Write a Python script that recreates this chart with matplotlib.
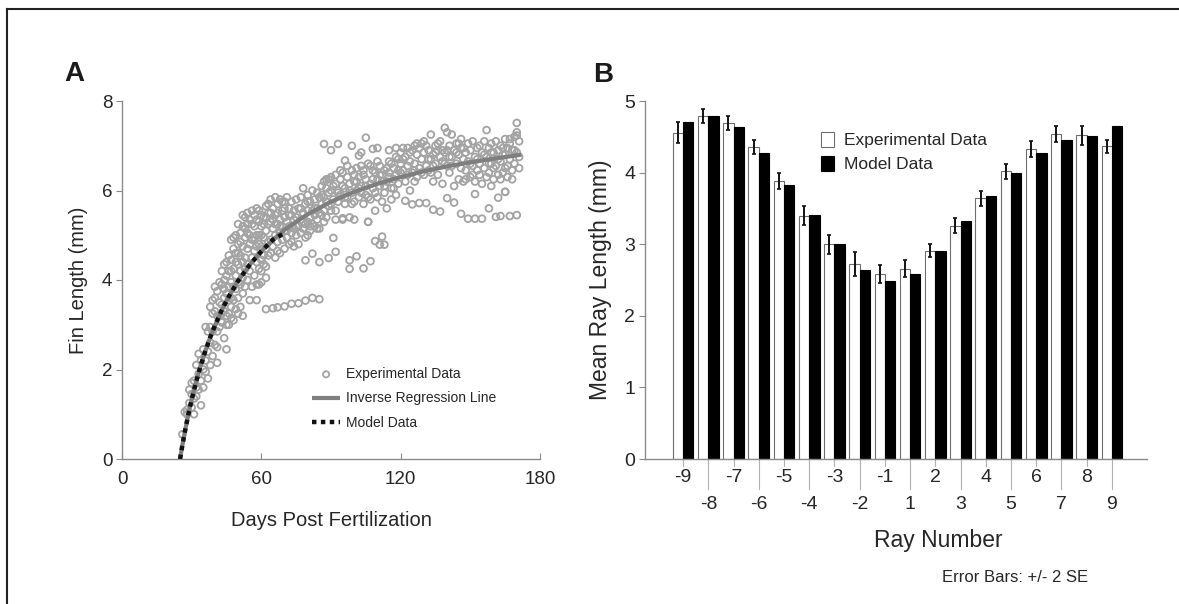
import matplotlib
matplotlib.use("Agg")
import matplotlib.pyplot as plt
from matplotlib.lines import Line2D
import numpy as np

plt.rcParams['font.family'] = ['Liberation Sans', 'DejaVu Sans']

# ---------------- Panel A data ----------------
exp_days = [
    26, 27, 28, 28, 29, 29, 30, 30, 30, 31, 31, 31, 32, 32, 32, 33, 33, 33, 34, 34, 34, 35, 35, 35,
    36, 36, 36, 37, 37, 37, 38, 38, 38, 39, 39, 39, 40, 40, 40, 41, 41, 41, 42, 42,
    42, 43, 43, 43, 44, 44, 44, 44, 45, 45, 45, 45, 45, 46, 46, 46, 46, 47, 47, 47, 47, 47, 48, 48, 48, 48,
    49, 49, 49, 49, 50, 50, 50, 50, 50, 51, 51, 51, 51, 52, 52, 52, 52, 53, 53, 53, 53, 54, 54, 54, 54,
    55, 55, 55, 55, 55,
    56, 56, 56, 57, 57, 57, 57, 58, 58, 58, 58, 59, 59, 59, 59, 60, 60, 60, 60, 60, 61, 61, 61, 62, 62, 62, 62,
    63, 63, 63, 64, 64, 64, 64, 65, 65, 65, 66, 66, 66, 66, 67, 67, 67, 68, 68, 68, 68, 69, 69, 69, 70, 70, 70, 70,
    71, 71, 71, 72, 72, 72, 73, 73, 73, 74, 74, 74, 75, 75, 75,
    56, 58, 59, 62, 65, 67, 70, 73, 76, 79, 82, 85,
    76, 76, 76, 77, 77, 77, 78, 78, 78, 79, 79, 79, 80, 80, 80, 80, 81, 81, 81, 82, 82, 82, 83, 83, 83,
    84, 84, 84, 85, 85, 85, 86, 86, 86, 87, 87, 87, 88, 88, 88, 89, 89, 89, 90, 90, 90, 79, 82, 85, 89, 91, 92,
    91, 91, 92, 92, 93, 93, 94, 94, 95, 95, 96, 96, 97, 97, 98, 98, 99, 99, 100, 100, 100, 101, 101, 102, 102,
    103, 103, 104, 104, 105, 105, 106, 106, 107, 107, 108, 108, 109, 109, 110, 110, 111, 111, 112, 112, 113, 113,
    114, 114, 115, 115, 116, 116, 117, 117, 118, 118, 119, 119, 120, 120,
    87, 90, 93, 96, 99, 102, 105, 108,
    98, 98, 101, 104, 107, 109, 112, 111, 113, 106, 95, 92,
    121, 121, 122, 122, 123, 123, 124, 124, 125, 125, 126, 126, 127, 127, 128, 128, 129, 129, 130, 130, 131, 131,
    132, 132, 133, 133, 134, 134, 135, 135, 136, 136, 137, 137, 138, 138, 139, 139, 140, 140, 141, 141, 142, 142,
    143, 143, 144, 144, 145, 145, 146, 146, 147, 147, 148, 148, 149, 149, 150, 150, 151, 151, 152, 152, 153, 153,
    154, 154, 155, 155, 156, 156, 157, 157, 158, 158, 159, 159, 160, 160, 161, 161, 162, 162, 163, 163, 164, 164,
    165, 165, 166, 166, 167, 167, 168, 168, 169, 169, 170, 170, 171, 171,
    122, 125, 128, 131, 134, 137, 140, 143, 146, 149, 152, 155, 158, 161, 163, 165, 167, 170, 152, 162, 165, 159,
    170, 170, 167,
]
exp_length = [
    0.55, 1.05, 1.10, 1.00, 1.55, 1.25, 1.70, 1.15, 1.45, 1.00, 1.35, 1.75, 1.60, 1.40, 2.10, 2.35, 1.90, 1.55,
    1.20, 2.20, 1.75, 2.45, 2.00, 1.60, 2.95, 2.20, 1.95, 2.85, 2.40, 1.80, 3.40, 2.60, 2.10, 3.25, 2.85, 2.30,
    3.85, 3.30, 2.55, 3.20, 2.50, 2.15, 3.95, 3.50,
    2.95, 3.90, 3.45, 3.05, 3.80, 3.30, 3.60, 4.00, 4.40, 3.20, 3.70, 3.00, 2.45, 4.55, 3.85, 3.25, 4.20, 4.90,
    4.45, 3.15, 3.60, 3.95, 4.70, 4.25, 3.55, 3.10, 5.00, 4.60, 3.80, 4.10, 4.80, 4.35, 3.95, 3.25, 4.60, 5.05,
    4.55, 3.90, 4.20, 5.20, 4.75, 4.40, 3.70, 5.40, 4.95, 4.50, 4.25, 5.50, 5.05, 4.70, 4.35, 5.35, 5.00, 4.80,
    4.20, 3.55,
    5.55, 4.90, 4.50, 5.20, 4.65, 5.45, 4.10, 5.60, 5.00, 4.40, 3.90, 5.30, 4.80, 4.25, 5.55, 5.20, 4.75, 4.45,
    5.45, 4.20, 5.40, 4.95, 4.55, 5.65, 5.10, 4.70, 4.30, 5.50, 4.85, 5.25, 5.80, 5.30, 4.90, 4.60, 5.60, 5.15,
    4.75, 5.85, 5.45, 5.00, 4.50, 5.70, 5.25, 4.85, 5.80, 5.35, 5.05, 4.60, 5.55, 5.20, 4.90, 5.75, 5.40, 5.10,
    4.70, 5.85, 5.30, 4.95, 5.60, 5.20, 4.80, 5.75, 5.45, 5.05, 5.55, 5.15, 4.75, 5.80, 5.40, 5.00,
    3.85, 3.55, 3.90, 3.35, 3.37, 3.39, 3.41, 3.47, 3.48, 3.54, 3.60, 3.57,
    5.60, 5.20, 4.80, 5.85, 5.35, 5.05, 6.05, 5.50, 5.15, 5.70, 5.25, 4.95, 5.90, 5.55, 5.30, 5.00, 5.75, 5.40,
    5.10, 6.00, 5.55, 5.25, 5.80, 5.45, 5.20, 5.95, 5.60, 5.35, 5.85, 5.50, 5.15, 6.10, 5.70, 5.45, 6.20, 5.85,
    5.55, 6.05, 5.75, 5.40, 6.25, 5.95, 5.65, 6.30, 6.00, 5.70, 4.44, 4.59, 4.40, 4.49, 4.94, 4.63,
    6.10, 5.80, 6.35, 5.55, 6.00, 5.75, 6.25, 5.90, 5.35, 6.40, 6.05, 5.70, 6.30, 5.85, 5.40, 6.15, 6.45, 5.95,
    6.20, 5.75, 5.35, 6.50, 6.00, 6.30, 5.85, 6.55, 6.10, 5.70, 6.35, 6.25, 5.90, 6.60, 5.30, 6.15, 5.80, 6.45,
    6.05, 5.55, 6.40, 6.25, 5.85, 6.55, 6.10, 5.75, 6.35, 6.45, 5.95, 6.20, 5.60, 6.65, 6.30, 6.05, 5.80, 6.50,
    6.25, 6.35, 5.90, 6.70, 6.15, 6.85, 6.40,
    7.04, 6.90, 7.04, 6.67, 7.00, 6.78, 7.18, 6.93,
    4.44, 4.25, 4.53, 4.26, 4.42, 4.87, 4.97, 4.79, 4.79, 5.30, 5.38, 5.35,
    6.95, 6.45, 6.75, 6.20, 6.95, 6.55, 6.65, 6.00, 6.90, 6.40, 7.00, 6.60, 6.80, 6.30, 6.95, 6.50, 7.05, 6.70,
    6.85, 6.35, 7.00, 6.55, 6.90, 6.45, 7.25, 6.70, 6.80, 6.20, 7.00, 6.60, 6.90, 6.35, 7.10, 6.75, 6.65, 6.15,
    7.40, 6.85, 7.30, 6.55, 7.00, 6.40, 7.25, 6.75, 6.90, 6.10, 7.05, 6.60, 6.80, 6.25, 7.15, 6.50, 6.95, 6.20,
    6.85, 6.45, 7.05, 6.65, 6.90, 6.30, 7.10, 6.55, 6.75, 6.20, 6.95, 6.45, 7.00, 6.60, 6.85, 6.15, 7.10, 6.50,
    7.35, 6.75, 6.95, 6.40, 7.05, 6.60, 6.85, 6.25, 7.10, 6.55, 6.90, 6.35, 7.00, 6.65, 6.80, 6.40, 7.15, 6.50,
    6.95, 6.30, 7.05, 6.70, 6.90, 6.25, 7.20, 6.60, 7.30, 6.85, 7.10, 6.50,
    5.77, 5.69, 5.72, 5.72, 5.57, 5.53, 5.83, 5.73, 5.48, 5.37, 5.37, 5.37, 5.60, 5.41, 5.43, 5.97, 5.43, 5.45,
    5.92, 5.84, 5.97, 6.10,
    7.51, 7.23, 7.15,
]
# further points read from the dense parts of the cloud
exp_days_extra = [
    38, 39, 40, 41, 41, 42, 43, 44, 44, 46, 46, 47, 48, 48, 49, 49, 50, 51, 51, 52, 52, 53, 53, 54, 54,
    43, 45, 47, 50, 52,
    56, 57, 58, 58, 59, 60, 61, 61, 62, 63, 63, 64, 65, 66, 67, 67, 68, 69, 70, 71, 72, 73, 74, 75, 60, 62,
    77, 78, 80, 81, 83, 84, 86, 87, 88, 90, 92, 93, 94, 95, 96, 97, 98, 99, 100, 101, 102, 103, 104, 105,
    106, 107, 108, 109, 110, 111, 112, 113, 114, 115, 116, 117, 118, 119, 120, 103, 110, 115, 118,
    121, 123, 124, 126, 127, 129, 130, 132, 133, 135, 136, 138, 139, 141, 142, 144, 145, 147, 148, 150,
    151, 153, 154, 156, 157, 159, 160, 162, 163, 165, 166, 168, 169, 171, 126, 134, 140, 146, 158, 164,
]
exp_length_extra = [
    2.95, 3.55, 3.60, 3.75, 2.85, 3.20, 4.20, 2.70, 4.35, 3.00, 3.55, 4.20, 3.85, 4.95, 3.35, 4.40, 3.60,
    4.85, 3.40, 5.45, 4.05, 3.85, 5.15, 4.00, 5.25,
    3.25, 4.10, 3.40, 5.25, 3.20,
    5.25, 4.95, 4.75, 5.35, 5.00, 5.00, 5.25, 4.35, 5.40, 4.55, 5.70, 5.50, 5.35, 5.25, 5.50, 4.65, 5.20,
    5.75, 5.60, 5.10, 5.45, 4.85, 5.35, 5.20, 3.95, 4.05,
    5.60, 5.30, 5.75, 5.20, 5.60, 5.15, 5.90, 5.30, 6.25, 5.55, 6.15, 5.95, 6.45, 6.10, 5.85, 6.55, 6.00,
    5.70, 6.35, 6.20, 6.05, 5.95, 6.45, 6.10, 5.85, 6.55, 6.25, 5.95, 6.65, 6.35, 6.20, 6.10, 6.50, 6.40,
    6.60, 6.05, 6.75, 6.45, 6.60, 6.85, 6.95, 6.90, 6.95,
    6.70, 6.35, 6.85, 6.45, 7.05, 6.40, 7.10, 6.70, 6.40, 6.85, 7.05, 6.90, 6.60, 6.75, 6.55, 6.85, 7.05,
    6.70, 6.25, 6.60, 6.35, 6.70, 6.35, 6.80, 6.30, 6.85, 6.50, 6.70, 6.25, 6.80, 6.55, 6.45, 6.90, 6.75,
    6.20, 6.55, 6.90, 6.95, 6.60, 6.95,
]

reg_days = [25, 26, 27, 28, 29, 30, 32, 34, 36, 38, 40, 43, 46, 50, 55, 60, 65, 70, 75, 80, 90, 100,
            110, 120, 130, 140, 150, 160, 172]
reg_length = [0.00, 0.31, 0.59, 0.85, 1.10, 1.33, 1.74, 2.11, 2.43, 2.72, 2.98, 3.33, 3.63, 3.98, 4.34,
              4.64, 4.90, 5.12, 5.30, 5.47, 5.75, 5.97, 6.15, 6.30, 6.43, 6.54, 6.63, 6.71, 6.80]

model_days = [25, 26, 27, 28, 29, 30, 32, 34, 36, 38, 40, 43, 46, 50, 55, 60, 65, 69]
model_length = [0.00, 0.31, 0.59, 0.85, 1.10, 1.33, 1.74, 2.11, 2.43, 2.72, 2.98, 3.33, 3.63, 3.98, 4.34,
                4.64, 4.90, 5.02]

# ---------------- Panel B data ----------------
ray_labels = ['-9', '-8', '-7', '-6', '-5', '-4', '-3', '-2', '-1',
              '1', '2', '3', '4', '5', '6', '7', '8', '9']
exp_mean = [4.56, 4.79, 4.69, 4.36, 3.88, 3.40, 3.00, 2.72, 2.59,
            2.66, 2.91, 3.26, 3.64, 4.02, 4.33, 4.54, 4.52, 4.37]
exp_err = [0.14, 0.10, 0.10, 0.10, 0.11, 0.13, 0.135, 0.165, 0.125,
           0.12, 0.09, 0.10, 0.105, 0.105, 0.11, 0.115, 0.13, 0.09]
model_mean = [4.71, 4.79, 4.64, 4.27, 3.83, 3.41, 3.00, 2.64, 2.49,
              2.58, 2.90, 3.32, 3.68, 4.00, 4.28, 4.46, 4.51, 4.65]

# ---------------- Figure ----------------
W, H = 1179, 604
fig = plt.figure(figsize=(W / 100, H / 100), dpi=100)
fig.patch.set_facecolor('white')

spine_col = '#8a8a8a'
txt_col = '#262626'

# Panel A
axA = fig.add_axes([122 / W, 1 - 459 / H, (540 - 122) / W, (459 - 101) / H])
axA.scatter(exp_days + exp_days_extra, exp_length + exp_length_extra, s=24, facecolors='none',
            edgecolors='#a3a3a3', linewidths=1.3, label='Experimental Data', zorder=2)
axA.plot(reg_days, reg_length, color='#7f7f7f', lw=3.0, solid_capstyle='butt',
         label='Inverse Regression Line', zorder=3)
axA.plot(model_days, model_length, color='#111111', lw=3.2, linestyle=(0, (1, 1)),
         dash_capstyle='butt', label='Model Data', zorder=4)
axA.set_xlim(0, 180)
axA.set_ylim(0, 8)
axA.set_xticks([0, 60, 120, 180])
axA.set_yticks([0, 2, 4, 6, 8])
for s in ['top', 'right']:
    axA.spines[s].set_visible(False)
for s in ['left', 'bottom']:
    axA.spines[s].set_color(spine_col)
    axA.spines[s].set_linewidth(1.0)
axA.tick_params(axis='y', direction='out', length=4, color=spine_col, labelsize=13.5,
                labelcolor=txt_col, pad=3)
axA.tick_params(axis='x', direction='in', length=4, color=spine_col, labelsize=13.5,
                labelcolor=txt_col, pad=9)
axA.set_xlabel('Days Post Fertilization', fontsize=14.5, color=txt_col, labelpad=16)
axA.set_ylabel('Fin Length (mm)', fontsize=14.5, color=txt_col, labelpad=10)
legA = axA.legend(loc='upper left', bbox_to_anchor=(0.455, 0.257), frameon=False, fontsize=10,
                  handlelength=2.0, handletextpad=0.4, labelspacing=0.75, labelcolor=txt_col,
                  borderpad=0, borderaxespad=0, markerscale=0.9)

# Panel B
axB = fig.add_axes([645 / W, 1 - 459 / H, (1147 - 645) / W, (459 - 101) / H])
n = len(ray_labels)
pos = np.arange(n)
bw = 0.41
axB.bar(pos - bw / 2, exp_mean, width=bw, color='white', edgecolor='#6e6e6e', linewidth=0.8,
        label='Experimental Data', zorder=2)
axB.bar(pos + bw / 2, model_mean, width=bw, color='black', edgecolor='black', linewidth=0.8,
        label='Model Data', zorder=2)
axB.errorbar(pos - bw / 2, exp_mean, yerr=exp_err, fmt='none', ecolor='#111111', elinewidth=1.4,
             capsize=1.5, capthick=1.2, zorder=3)
axB.set_xlim(-1.51, 18.39)
axB.set_ylim(0, 5)
axB.set_yticks([0, 1, 2, 3, 4, 5])
for s in ['top', 'right']:
    axB.spines[s].set_visible(False)
for s in ['left', 'bottom']:
    axB.spines[s].set_color(spine_col)
    axB.spines[s].set_linewidth(1.0)
axB.tick_params(axis='y', direction='out', length=4, color=spine_col, labelsize=14,
                labelcolor=txt_col, pad=3)
axB.set_xticks(pos)
axB.set_xticklabels([])
axB.tick_params(axis='x', length=0)
# staggered labels with alternating tick lengths
trans = axB.get_xaxis_transform()
for i, lab in enumerate(ray_labels):
    upper = (i % 2 == 0)
    tick_len = 0.02 if upper else 0.085
    axB.plot([i, i], [0, -tick_len], transform=trans, color='#b0b0b0', lw=0.8, clip_on=False)
    yy = -0.053 if upper else -0.128
    axB.text(i, yy, lab, transform=trans, ha='center', va='center', fontsize=14, color=txt_col)
fig.text(938 / W, 1 - 541 / H, 'Ray Number', ha='center', va='center', fontsize=16.5, color=txt_col)
axB.set_ylabel('Mean Ray Length (mm)', fontsize=16.5, color=txt_col, labelpad=9)
legB = axB.legend(loc='upper left', bbox_to_anchor=(0.35, 0.913), frameon=False, fontsize=12.5,
                  handlelength=0.75, handleheight=0.9, handletextpad=0.6, labelspacing=0.45,
                  labelcolor=txt_col, borderpad=0, borderaxespad=0)

fig.text(1015 / W, 1 - 578 / H, 'Error Bars: +/- 2 SE', ha='center', va='center', fontsize=12,
         color=txt_col)

# Panel letters
fig.text(74 / W, 1 - 74 / H, 'A', ha='center', va='center', fontsize=20, fontweight='bold', color='#1a1a1a')
fig.text(603 / W, 1 - 75 / H, 'B', ha='center', va='center', fontsize=20, fontweight='bold', color='#1a1a1a')

# outer frame lines (top and left)
fig.add_artist(Line2D([7 / W, 1.0], [1 - 9 / H, 1 - 9 / H], transform=fig.transFigure, color='#222222', lw=1.5))
fig.add_artist(Line2D([7 / W, 7 / W], [0, 1 - 9 / H], transform=fig.transFigure, color='#222222', lw=1.5))

fig.savefig('out.png', dpi=100, facecolor='white')
